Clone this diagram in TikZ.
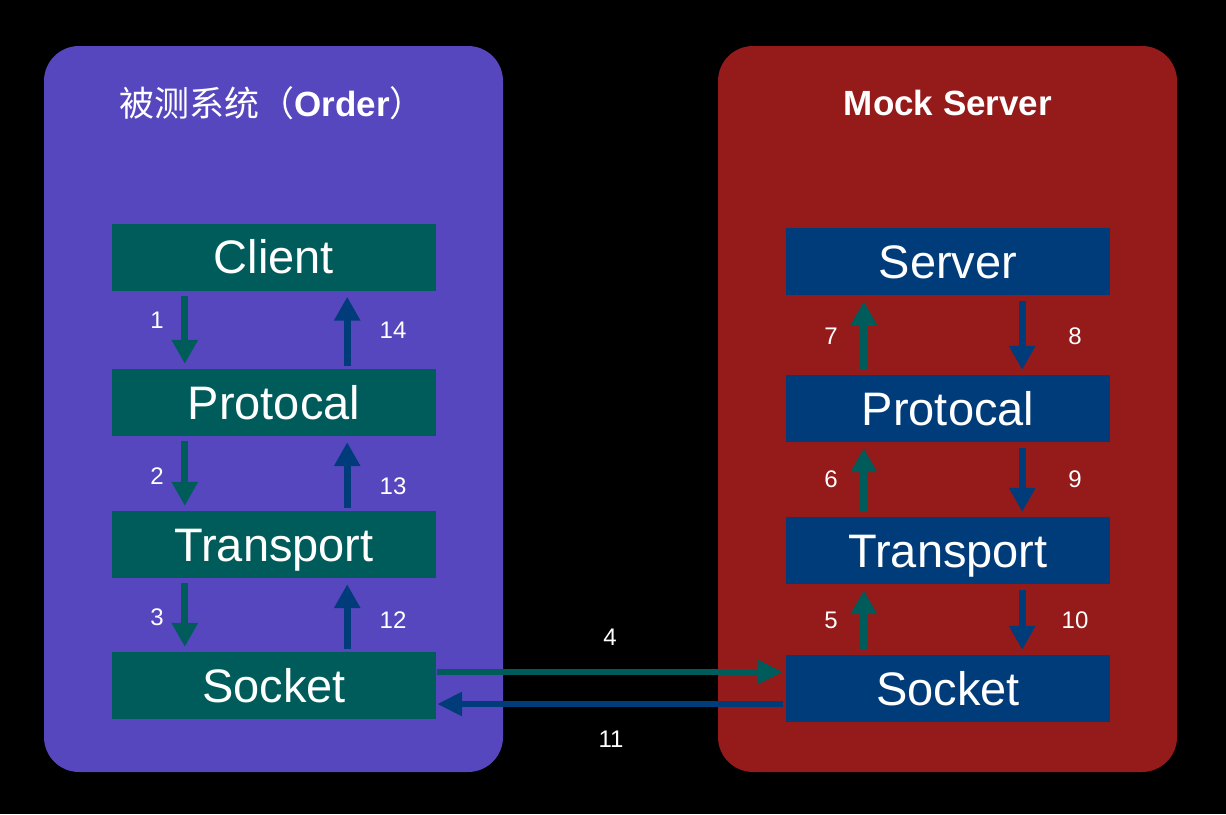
\documentclass[tikz,border=0pt]{standalone}
\usepackage{fontspec}
\setmainfont{Liberation Sans}
\newfontfamily\cjk{Noto Sans CJK SC}
\usetikzlibrary{arrows.meta,calc}
\definecolor{panelL}{HTML}{5647BF}
\definecolor{panelR}{HTML}{951A1A}
\definecolor{tealc}{HTML}{005B5B}
\definecolor{bluec}{HTML}{003C7A}
\begin{document}
\begin{tikzpicture}[x=1pt,y=-1pt,
  panel/.style={draw=none, rounded corners=35pt, minimum width=459pt, minimum height=726pt, inner sep=0pt},
  layer/.style={draw=none, minimum width=324pt, minimum height=67pt, inner sep=0pt, text=white,
    font=\fontsize{47}{50}\selectfont, text height=33.7pt, text depth=0pt},
  num/.style={text=white, font=\fontsize{24}{26}\selectfont, inner sep=0pt},
  title/.style={text=white, inner sep=0pt},
  varrow/.style={line width=7pt, -{Triangle[length=24pt,width=25pt]}},
  harrow/.style={line width=6pt, -{Triangle[length=25pt,width=23pt]}}]
\fill[black] (0,0) rectangle (1226,814);
\useasboundingbox (0,0) rectangle (1226,814);
% panels
\node[panel, fill=panelL] (pl) at (273.5,409) {};
\node[panel, fill=panelR] (pr) at (947.5,409) {};
% titles
\node[title, font=\fontsize{35}{38}\selectfont] (tl) at (272,103) {{\cjk 被测系统（}\textbf{Order}{\cjk ）}};
\node[title, font=\fontsize{35}{38}\selectfont\bfseries] (tr) at (948,103) {Mock Server};
% left boxes
\node[layer, fill=tealc] (client) at (274,257) {Client};
\node[layer, fill=tealc] (protoL) at (274,402.5) {Protocal};
\node[layer, fill=tealc] (transL) at (274,544.5) {Transport};
\node[layer, fill=tealc] (sockL) at (274,685.5) {Socket};
% right boxes
\node[layer, fill=bluec] (server) at (948,261.5) {Server};
\node[layer, fill=bluec] (protoR) at (948,408.5) {Protocal};
\node[layer, fill=bluec] (transR) at (948,550.5) {Transport};
\node[layer, fill=bluec] (sockR) at (948,688.5) {Socket};
% left vertical arrows
\draw[varrow, tealc, shorten <=5pt, shorten >=5pt] ($(client.south west)+(73,0)$) -- ($(protoL.north west)+(73,0)$);
\draw[varrow, tealc, shorten <=5pt, shorten >=5pt] ($(protoL.south west)+(73,0)$) -- ($(transL.north west)+(73,0)$);
\draw[varrow, tealc, shorten <=5pt, shorten >=5pt] ($(transL.south west)+(73,0)$) -- ($(sockL.north west)+(73,0)$);
\draw[varrow, bluec, shorten <=3pt, shorten >=6pt] ($(protoL.north east)+(-89,0)$) -- ($(client.south east)+(-89,0)$);
\draw[varrow, bluec, shorten <=3pt, shorten >=6pt] ($(transL.north east)+(-89,0)$) -- ($(protoL.south east)+(-89,0)$);
\draw[varrow, bluec, shorten <=3pt, shorten >=6pt] ($(sockL.north east)+(-89,0)$) -- ($(transL.south east)+(-89,0)$);
% right vertical arrows
\draw[varrow, tealc, shorten <=6pt, shorten >=6pt] ($(protoR.north west)+(78,0)$) -- ($(server.south west)+(78,0)$);
\draw[varrow, tealc, shorten <=6pt, shorten >=6pt] ($(transR.north west)+(78,0)$) -- ($(protoR.south west)+(78,0)$);
\draw[varrow, tealc, shorten <=6pt, shorten >=6pt] ($(sockR.north west)+(78,0)$) -- ($(transR.south west)+(78,0)$);
\draw[varrow, bluec, shorten <=6pt, shorten >=5pt] ($(server.south east)+(-88,0)$) -- ($(protoR.north east)+(-88,0)$);
\draw[varrow, bluec, shorten <=6pt, shorten >=5pt] ($(protoR.south east)+(-88,0)$) -- ($(transR.north east)+(-88,0)$);
\draw[varrow, bluec, shorten <=6pt, shorten >=5pt] ($(transR.south east)+(-88,0)$) -- ($(sockR.north east)+(-88,0)$);
% horizontal arrows
\coordinate (h4s) at ($(sockL.east)+(1,-13.5)$);
\coordinate (h4e) at (h4s -| sockR.west);
\draw[harrow, tealc, shorten >=3pt] (h4s) -- (h4e);
\coordinate (h11e) at ($(sockL.east)+(0,18.5)$);
\coordinate (h11s) at (h11e -| sockR.west);
\draw[harrow, bluec, shorten <=3pt, shorten >=1pt] (h11s) -- (h11e);
% numbers
\node[num] (n1) at (157,320) {1};
\node[num] (n14) at (393,330) {14};
\node[num] (n2) at (157,476) {2};
\node[num] (n13) at (393,486) {13};
\node[num] (n3) at (157,617) {3};
\node[num] (n12) at (393,620) {12};
\node[num] (n7) at (831,336) {7};
\node[num] (n8) at (1075,336) {8};
\node[num] (n6) at (831,479) {6};
\node[num] (n9) at (1075,479) {9};
\node[num] (n5) at (831,620) {5};
\node[num] (n10) at (1075,620) {10};
\node[num] (n4) at (610,637) {4};
\node[num] (n11) at (611,739) {11};
\end{tikzpicture}
\end{document}
